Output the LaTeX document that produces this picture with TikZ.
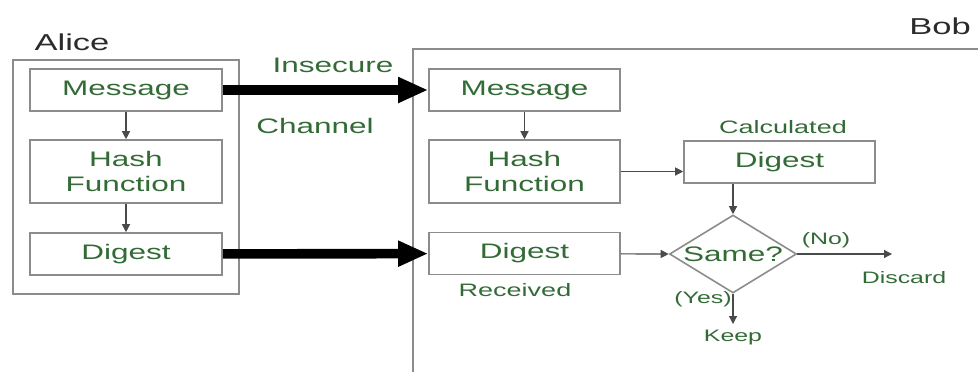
\documentclass[tikz,border=0pt]{standalone}
\usepackage{fontspec}
\setmainfont{Liberation Sans}[FakeStretch=1.5]
\usepackage{xcolor}
\usetikzlibrary{positioning,arrows.meta,shapes.geometric}
\definecolor{ink}{HTML}{336B36}
\definecolor{edge}{HTML}{8C8C8C}
\definecolor{wire}{HTML}{4A4A4A}
\definecolor{dark}{HTML}{2B2B2B}
\tikzset{
  box/.style={draw=edge,line width=0.8pt,minimum width=96pt,minimum height=21pt,inner sep=0pt,
    text=ink,align=center,font=\fontsize{10.5}{12.5}\selectfont},
  tall/.style={box,minimum height=31.5pt},
  frame/.style={draw=edge,line width=0.8pt},
  lbl/.style={inner sep=0pt,text=ink,font=\fontsize{9}{10}\selectfont},
  tiny/.style={inner sep=0pt,text=ink,font=\fontsize{8.3}{9}\selectfont},
  who/.style={inner sep=0pt,text=dark,font=\fontsize{11.5}{13}\selectfont},
  arr/.style={-{Triangle[length=4pt,width=4pt]},line width=0.6pt,wire},
  fat/.style={-{Triangle[length=15pt,width=12pt]},line width=4.8pt,black},
}
\begin{document}
\begin{tikzpicture}[x=0.5pt,y=-0.5pt]
\useasboundingbox (0,0) rectangle (978,372);
% Alice side
\draw[frame] (13,60) rectangle (239,294);
\node[who] (alice) at (72,42) {Alice};
\node[box] (amsg) at (126,90) {Message};
\node[tall] (ahash) at (126,171.5) {Hash\\Function};
\node[box] (adig) at (126,254) {Digest};
\draw[arr] (amsg) -- (ahash);
\draw[arr] (ahash) -- (adig);
% channel
\node[who,text=ink,font=\fontsize{10.5}{12}\selectfont] (insec) at (333,65) {Insecure};
\node[who,text=ink,font=\fontsize{10.5}{12}\selectfont] (chan) at (315,126) {Channel};
% Bob side
\draw[frame] (413,372) |- (978,49);
\node[who] (bob) at (940,26) {Bob};
\node[box,minimum width=95.5pt] (bmsg) at (524.5,90) {Message};
\node[tall,minimum width=95.5pt] (bhash) at (524.5,171.5) {Hash\\Function};
\node[box,minimum width=95.5pt] (bdig) at (524.5,253.5) {Digest};
\node[lbl] (recv) at (515,290) {Received};
\node[box,minimum width=95.5pt] (cdig) at (779.5,162) {Digest};
\node[lbl] (calc) at (783,127) {Calculated};
\node[diamond,draw=edge,line width=0.8pt,minimum width=63.5pt,minimum height=39pt,inner sep=0pt,
  label={[box,draw=none,minimum width=0pt,minimum height=0pt]center:Same?}] (same) at (733,254) {};
\coordinate (cut) at (892,254);
\coordinate (keep) at (733,324);
\node[tiny] (no) at (826,240) {(No)};
\node[tiny] (disc) at (904,278) {Discard};
\node[tiny] (yes) at (703,299) {(Yes)};
\node[tiny] (kp) at (733,337) {Keep};
\draw[fat] (amsg) -- (bmsg);
\draw[fat] (adig) -- (bdig);
\draw[arr] (bmsg) -- (bhash);
\draw[arr] (bhash.east) -- (bhash.east -| cdig.west);
\draw[arr] (same.north |- cdig.south) -- (same.north);
\draw[arr] (bdig) -- (same.west);
\draw[arr] (same.east) -- (cut);
\draw[arr] (same.south) -- (keep);
\end{tikzpicture}
\end{document}
